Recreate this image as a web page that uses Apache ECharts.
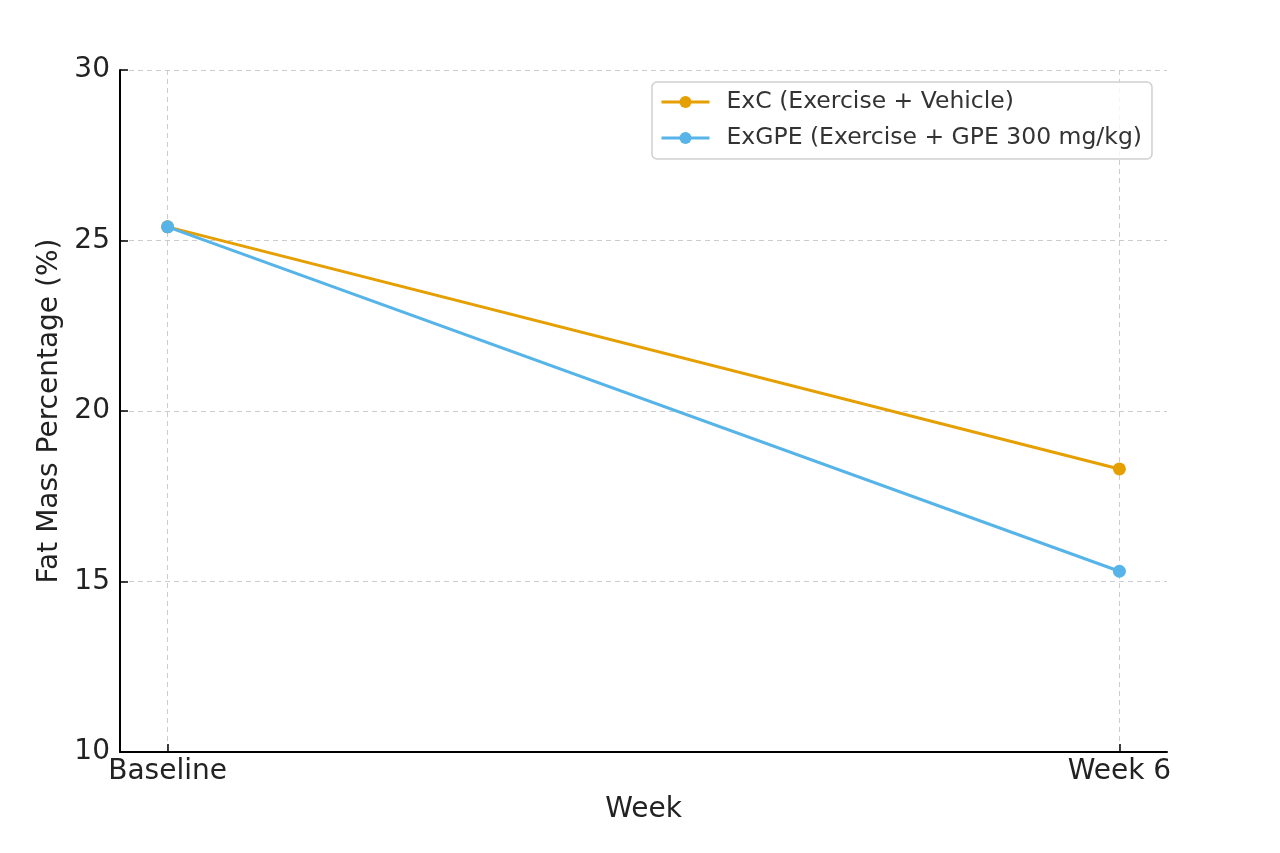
<!DOCTYPE html>
<html>
<head>
<meta charset="utf-8">
<script src="https://cdn.jsdelivr.net/npm/echarts@6/dist/echarts.min.js"></script>
<style>html,body{margin:0;padding:0;background:#fff;}#c{width:1280px;height:853px;}</style>
</head>
<body>
<div id="c"></div>
<script>
const categories = ['Baseline', 'Week 6'];
const exC = [25.4, 18.3];
const exGPE = [25.4, 15.3];
const seriesNames = ['ExC (Exercise + Vehicle)', 'ExGPE (Exercise + GPE 300 mg/kg)'];
const yTicks = [10, 15, 20, 25, 30];

const FONT = 'DejaVu Sans';
const chart = echarts.init(document.getElementById('c'), null, {renderer: 'canvas'});
const pos = categories.map((c, i) => i);
function toData(vals) { return vals.map((v, i) => [pos[i], v]); }

chart.setOption({
  animation: false,
  backgroundColor: '#fff',
  textStyle: {fontFamily: FONT},
  grid: {left: 120, right: 113, top: 70, bottom: 101, containLabel: false},
  legend: {
    left: 652, top: 82,
    orient: 'vertical',
    padding: [8, 10, 9, 8],
    itemGap: 12,
    itemWidth: 48, itemHeight: 15,
    lineStyle: {width: 3},
    borderColor: '#d0d0d0', borderWidth: 1.5, borderRadius: 5,
    backgroundColor: 'rgba(255,255,255,0.8)',
    textStyle: {fontFamily: FONT, fontSize: 23.5, color: '#333', padding: [0, 0, 0, 12]},
    data: seriesNames
  },
  xAxis: {
    type: 'value', min: -0.05, max: 1.05,
    name: 'Week', nameLocation: 'middle', nameGap: 44,
    nameTextStyle: {fontFamily: FONT, fontSize: 28, color: '#222'},
    axisLine: {show: true, onZero: false, lineStyle: {color: '#000', width: 2}},
    axisTick: {show: true, inside: true, length: 8, customValues: pos, lineStyle: {color: '#000', width: 1.5}},
    axisLabel: {customValues: pos, fontFamily: FONT, fontSize: 28, color: '#222', margin: 6,
      formatter: v => categories[Math.round(v)]},
    splitLine: {show: true, lineStyle: {color: '#cccccc', type: [5, 4], width: 1}}
  },
  yAxis: {
    type: 'value', min: yTicks[0], max: yTicks[yTicks.length - 1], interval: 5,
    name: 'Fat Mass Percentage (%)', nameLocation: 'middle', nameGap: 54,
    nameTextStyle: {fontFamily: FONT, fontSize: 28, color: '#222'},
    axisLine: {show: true, onZero: false, lineStyle: {color: '#000', width: 2}},
    axisTick: {show: true, inside: true, length: 8, lineStyle: {color: '#000', width: 1.5}},
    axisLabel: {fontFamily: FONT, fontSize: 28, color: '#222', margin: 10},
    splitLine: {show: true, lineStyle: {color: '#cccccc', type: [5, 4], width: 1}}
  },
  series: [
    {name: seriesNames[0], type: 'line', data: toData(exC), color: '#E69F00',
     symbol: 'circle', symbolSize: 13, lineStyle: {width: 3}, z: 2},
    {name: seriesNames[1], type: 'line', data: toData(exGPE), color: '#56B4E9',
     symbol: 'circle', symbolSize: 13, lineStyle: {width: 3}, z: 3}
  ]
});
</script>
</body>
</html>
